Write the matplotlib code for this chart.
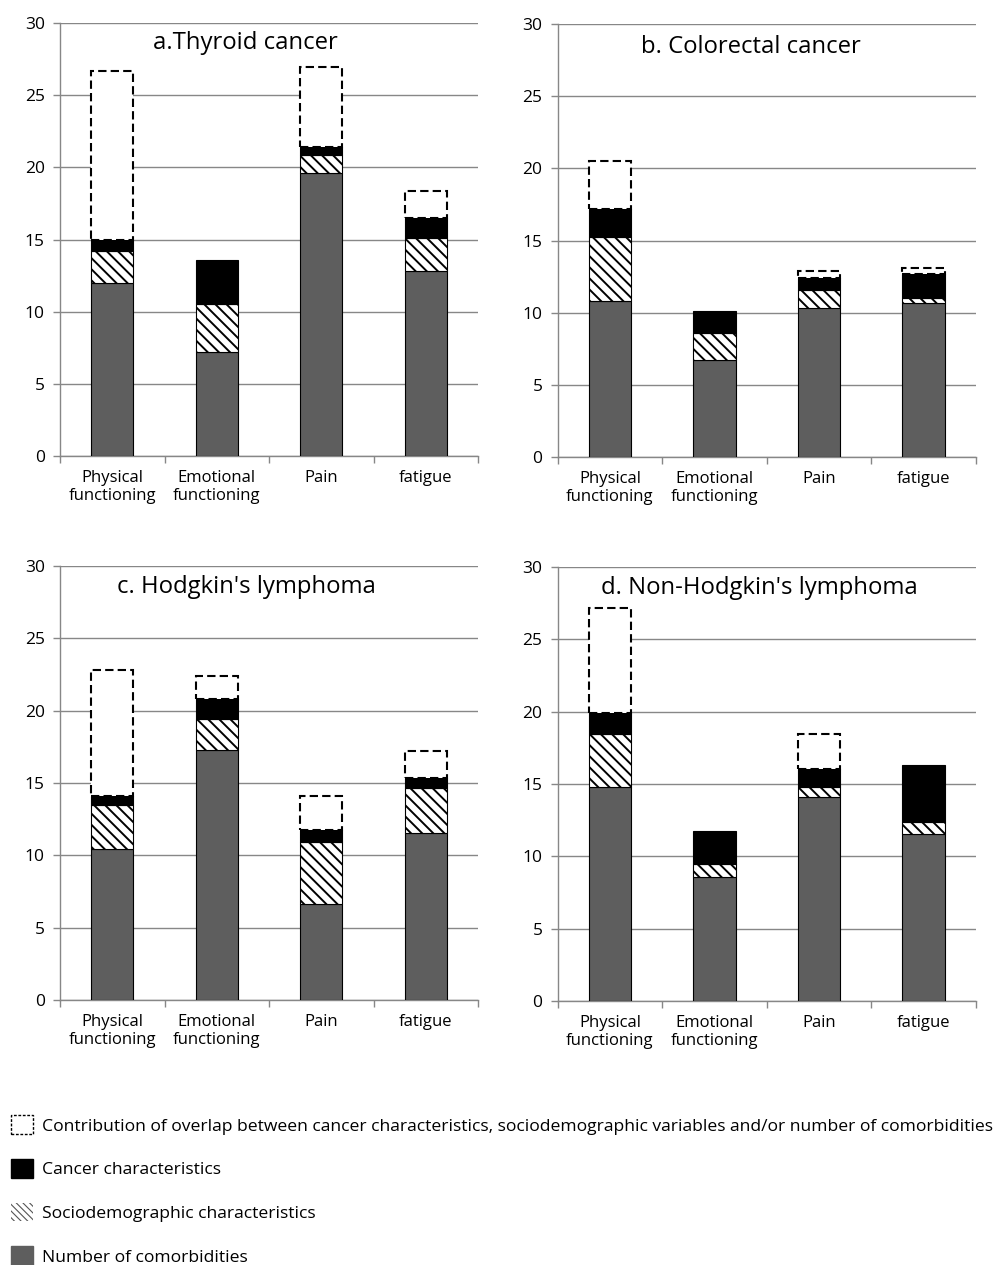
import numpy as np
import matplotlib.pyplot as plt
from matplotlib.patches import Patch

plt.rcParams["font.family"] = ["Open Sans", "DejaVu Sans"]
plt.rcParams["hatch.linewidth"] = 1.4

categories = ["Physical\nfunctioning", "Emotional\nfunctioning", "Pain", "fatigue"]
panel_titles = ["a.Thyroid cancer", "b. Colorectal cancer",
                "c. Hodgkin's lymphoma", "d. Non-Hodgkin's lymphoma"]

# explained variance (%) per block, one row per cancer type
comorbidities = [
    [12.0, 7.23, 19.63, 12.84],
    [10.82, 6.74, 10.32, 10.66],
    [10.44, 17.26, 6.64, 11.52],
    [14.79, 8.57, 14.08, 11.57],
]
sociodemographic = [
    [2.2, 3.27, 1.2, 2.24],
    [4.43, 1.84, 1.22, 0.39],
    [3.04, 2.16, 4.30, 3.11],
    [3.69, 0.88, 0.69, 0.78],
]
cancer_chars = [
    [0.8, 3.08, 0.6, 1.39],
    [1.92, 1.57, 0.85, 1.64],
    [0.62, 1.41, 0.81, 0.74],
    [1.43, 2.30, 1.24, 3.99],
]
overlap = [
    [11.65, 0.0, 5.5, 1.91],
    [3.37, 0.0, 0.53, 0.44],
    [8.71, 1.59, 2.35, 1.82],
    [7.28, 0.0, 2.42, 0.0],
]

legend_labels = [
    "Contribution of overlap between cancer characteristics, sociodemographic variables and/or number of comorbidities",
    "Cancer characteristics",
    "Sociodemographic characteristics",
    "Number of comorbidities",
]

GRAY = "#5e5e5e"
GRID = "#878787"

# axes boxes in figure fractions: left, bottom, width, height
boxes = [
    [0.0598, 0.6395, 0.4163, 0.3423],
    [0.5555, 0.6387, 0.4163, 0.3423],
    [0.0598, 0.2095, 0.4163, 0.3431],
    [0.5555, 0.2087, 0.4163, 0.3431],
]
title_pos = [(0.443, 0.954), (0.462, 0.947), (0.447, 0.952), (0.483, 0.952)]

fig = plt.figure(figsize=(10.04, 12.65), dpi=100)
x = np.arange(len(categories))
width = 0.405

for i, box in enumerate(boxes):
    ax = fig.add_axes(box)
    c = np.array(comorbidities[i])
    s = np.array(sociodemographic[i])
    k = np.array(cancer_chars[i])
    o = np.array(overlap[i])

    ax.bar(x, c, width, color=GRAY, edgecolor="black", linewidth=0.8, zorder=3)
    ax.bar(x, s, width, bottom=c, color="white", edgecolor="black",
           hatch="\\\\\\", linewidth=0.8, zorder=3)
    ax.bar(x, k, width, bottom=c + s, color="black", edgecolor="black",
           linewidth=0.8, zorder=3)
    has = o > 0
    ax.bar(x[has], o[has], width, bottom=(c + s + k)[has], color="white",
           edgecolor="black", linewidth=1.5, linestyle=(0, (4, 2)), zorder=4)

    ax.set_xlim(-0.5, len(categories) - 0.5)
    ax.set_ylim(0, 30)
    ax.set_yticks(np.arange(0, 31, 5))
    ax.yaxis.grid(True, color=GRID, linewidth=1.0)
    ax.set_axisbelow(True)
    for side in ("top", "right"):
        ax.spines[side].set_visible(False)
    for side in ("left", "bottom"):
        ax.spines[side].set_color(GRID)
        ax.spines[side].set_linewidth(1.0)

    # boundary ticks on major, category names on minor
    ax.set_xticks(np.arange(-0.5, len(categories), 1.0))
    ax.set_xticklabels([])
    ax.set_xticks(x, minor=True)
    ax.set_xticklabels(categories, minor=True, fontsize=12)
    ax.tick_params(axis="x", which="major", direction="out", length=5,
                   color=GRID, width=1.0)
    ax.tick_params(axis="x", which="minor", length=0, pad=10)
    ax.tick_params(axis="y", direction="out", length=5, color=GRID,
                   width=1.0, labelsize=12.5, pad=6)

    tx, ty = title_pos[i]
    ax.text(tx, ty, panel_titles[i], transform=ax.transAxes, ha="center",
            va="center", fontsize=17.2)

plt.rcParams["hatch.linewidth"] = 0.8
handles = [
    Patch(facecolor="white", edgecolor="black", linestyle=(0, (2, 1.2)), linewidth=1.0),
    Patch(facecolor="black", edgecolor="black"),
    Patch(facecolor="white", edgecolor="#555555", hatch="\\\\\\\\\\", linewidth=0),
    Patch(facecolor=GRAY, edgecolor=GRAY),
]
fig.legend(handles, legend_labels, loc="upper left",
           bbox_to_anchor=(0.011, 0.1182), frameon=False, fontsize=12.6,
           handlelength=1.25, handleheight=1.25, labelspacing=1.4,
           handletextpad=0.5, borderaxespad=0, borderpad=0)

fig.savefig("out.png", dpi=100)
